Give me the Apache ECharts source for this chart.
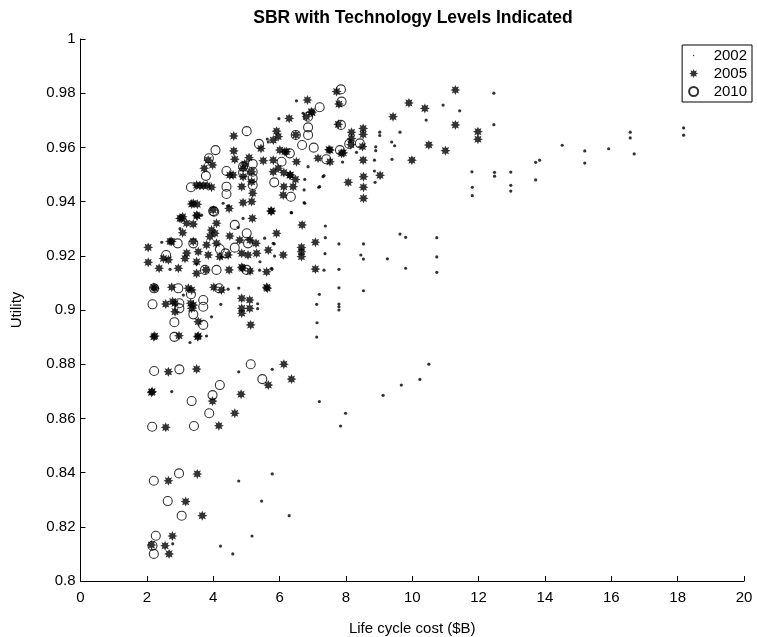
<!DOCTYPE html>
<html>
<head>
<meta charset="utf-8">
<script src="https://cdn.jsdelivr.net/npm/echarts@6/dist/echarts.min.js"></script>
<style>
  html, body { margin: 0; padding: 0; background: #fff; }
  #chart { width: 757px; height: 637px; }
</style>
</head>
<body>
<div id="chart"></div>
<script>
// [life cycle cost ($B), utility] per technology level
const pts2002 = [
  [12.46, 0.980], [12.46, 0.9684], [12.48, 0.9508], [12.48, 0.9494], [12.97, 0.9509], [12.97, 0.946], [12.97, 0.9439],
  [13.72, 0.9545], [13.84, 0.9553], [13.72, 0.948], [14.52, 0.9608], [15.2, 0.9587], [15.2, 0.9542], [15.92, 0.9595],
  [16.57, 0.9656], [16.57, 0.9635], [16.69, 0.9576], [18.18, 0.9672], [18.18, 0.9645],
  [10.93, 0.9756], [11.43, 0.9735], [10.42, 0.9701], [9.63, 0.9656], [9.02, 0.9656], [9.02, 0.9644], [9.38, 0.962],
  [9.47, 0.9606], [8.9, 0.9602], [8.9, 0.9588], [8.86, 0.9553], [9.39, 0.9556], [7.9, 0.9546], [8.86, 0.9513],
  [8.88, 0.9471], [11.8, 0.951], [11.81, 0.9453], [11.81, 0.9422],
  [7.79, 0.9244], [8.53, 0.9244], [9.63, 0.928], [9.8, 0.9268], [10.74, 0.9267], [8.45, 0.9203], [8.53, 0.9188],
  [9.25, 0.9189], [10.74, 0.9196], [9.8, 0.9154], [10.74, 0.9139], [7.79, 0.915], [7.79, 0.9082], [8.53, 0.9071],
  [7.79, 0.9022], [7.79, 0.9012], [7.79, 0.9],
  [6.35, 0.9359], [7.38, 0.931], [7.38, 0.9267], [7.37, 0.9208], [5.84, 0.9244], [5.85, 0.9199], [4.9, 0.9338],
  [5.41, 0.9178], [5.4, 0.9147], [5.77, 0.915], [7.34, 0.9147], [4.77, 0.9081], [7.2, 0.9058], [7.12, 0.9021],
  [7.13, 0.8953], [7.12, 0.89], [5.34, 0.9023], [5.34, 0.9005],
  [10.5, 0.88], [10.23, 0.8744], [9.67, 0.8723], [9.12, 0.8685],
  [2.75, 0.8699], [7.2, 0.8662], [7.99, 0.8619], [7.84, 0.8572], [5.78, 0.8395], [4.77, 0.8369], [5.46, 0.8295],
  [6.29, 0.8241], [5.17, 0.8166], [4.22, 0.8129], [4.59, 0.81], [2.78, 0.8137],
  [4.77, 0.8772], [5.78, 0.8781], [3.8, 0.8904], [4.23, 0.9021], [3.95, 0.8975], [4.45, 0.9077], [6.76, 0.9394],
  [5.76, 0.9154], [5.81, 0.9246], [4.45, 0.9384], [3.65, 0.935],
  [6.51, 0.9772], [5.98, 0.9706], [5.63, 0.9631], [6.86, 0.9529], [6.76, 0.9482], [7.21, 0.9455], [6.74, 0.9443],
  [6.74, 0.9396], [7.34, 0.9496], [8.32, 0.9582], [6.36, 0.9359], [4.3, 0.9394], [8.12, 0.9621], [6.71, 0.9726],
  [7.31, 0.9492], [7.18, 0.9453], [5.66, 0.962],
  [3.0, 0.93], [3.5, 0.917], [4.25, 0.9195], [2.7, 0.915], [3.1, 0.9055], [4.75, 0.9305], [5.55, 0.9265],
  [3.3, 0.888], [2.45, 0.925]
];

const pts2005 = [
  [11.3, 0.9812], [9.9, 0.9764], [10.38, 0.9744], [9.42, 0.9713], [11.3, 0.9683], [10.5, 0.9609], [11.0, 0.9588],
  [9.99, 0.9553], [11.98, 0.9658], [11.98, 0.963], [9.03, 0.9497],
  [8.52, 0.967], [8.52, 0.9648], [8.5, 0.9603], [8.52, 0.9553], [8.53, 0.9492], [8.53, 0.9453], [8.53, 0.9412],
  [8.07, 0.9471], [8.17, 0.9656], [8.17, 0.9633], [8.15, 0.961],
  [7.72, 0.9806], [7.79, 0.976], [7.77, 0.9685], [7.92, 0.958], [7.52, 0.959], [7.52, 0.9547], [7.87, 0.9578],
  [7.16, 0.956], [7.49, 0.9592],
  [6.84, 0.9775], [6.29, 0.9707], [6.81, 0.9713], [6.98, 0.9728], [6.49, 0.9646], [5.91, 0.966], [5.96, 0.964],
  [5.81, 0.9627], [6.51, 0.9547], [5.81, 0.9553], [6.01, 0.959], [6.21, 0.9584], [5.96, 0.9523], [6.13, 0.9507],
  [6.33, 0.9498], [6.48, 0.9482], [6.41, 0.9455], [6.13, 0.9455], [6.11, 0.9424], [5.81, 0.951], [5.74, 0.9365],
  [5.51, 0.9551], [5.44, 0.9596], [5.08, 0.9562], [4.95, 0.9539], [4.9, 0.9523], [4.9, 0.9492], [4.86, 0.9455],
  [4.9, 0.9396], [5.16, 0.94], [5.19, 0.9431], [5.16, 0.9473], [5.16, 0.951], [4.62, 0.9642], [4.62, 0.9587],
  [4.65, 0.9556], [4.5, 0.9498], [4.6, 0.9498], [4.48, 0.9375], [3.98, 0.9535], [3.73, 0.9523], [3.85, 0.9553],
  [3.5, 0.9461], [3.7, 0.9459], [3.95, 0.9453], [3.4, 0.9394], [3.52, 0.939], [4.0, 0.9369], [3.08, 0.9344],
  [3.52, 0.9347], [6.96, 0.9732], [6.16, 0.9584], [6.31, 0.9498], [3.6, 0.9459], [3.82, 0.9459],
  [2.04, 0.9231], [2.04, 0.9176], [2.37, 0.9154], [2.21, 0.9084], [2.21, 0.8901], [2.57, 0.9022], [2.65, 0.8772],
  [2.14, 0.8696], [3.05, 0.9338], [3.08, 0.9285], [3.4, 0.9317], [3.5, 0.935], [3.35, 0.9391], [3.4, 0.9253],
  [3.2, 0.921], [2.65, 0.9185], [2.7, 0.9253], [2.95, 0.9154], [3.5, 0.9178], [3.5, 0.9135], [3.55, 0.9215],
  [3.8, 0.924], [3.9, 0.9271], [3.95, 0.9295], [4.05, 0.9283], [4.1, 0.932], [4.1, 0.9246], [3.85, 0.9203],
  [4.2, 0.9197], [4.45, 0.9203], [4.5, 0.9273], [4.8, 0.9258], [4.86, 0.9209], [5.05, 0.9203], [5.31, 0.9209],
  [4.89, 0.9154], [4.48, 0.9148], [3.78, 0.9148], [5.66, 0.9221], [5.61, 0.9141], [5.61, 0.9084], [5.91, 0.9283],
  [6.11, 0.9203], [5.76, 0.9365], [6.68, 0.9314], [6.66, 0.9231], [6.66, 0.9215], [6.66, 0.9197], [7.08, 0.925],
  [7.08, 0.9151], [4.25, 0.9074], [4.02, 0.9084], [3.35, 0.9074], [2.78, 0.9031], [2.85, 0.8994], [3.32, 0.9025],
  [3.35, 0.9006], [3.55, 0.8957], [2.97, 0.8905], [3.53, 0.8901], [4.86, 0.9043], [4.86, 0.9006], [4.86, 0.8988],
  [5.1, 0.9037], [5.1, 0.9006], [5.13, 0.8945], [4.84, 0.8689], [5.66, 0.8723], [6.13, 0.88], [6.36, 0.8745],
  [3.5, 0.8782],
  [2.16, 0.8699], [3.98, 0.8664], [4.65, 0.8619], [2.57, 0.8567], [4.17, 0.8573], [2.65, 0.837], [3.52, 0.8395],
  [3.17, 0.8293], [3.67, 0.8241], [2.77, 0.8166], [2.14, 0.8133], [2.55, 0.813], [2.67, 0.81],
  [5.18, 0.9338], [5.29, 0.9246], [5.11, 0.9258], [4.86, 0.9158], [5.11, 0.9144], [5.63, 0.908],
  [3.0, 0.9338], [3.2, 0.932], [2.75, 0.9253], [2.5, 0.919], [3.15, 0.919], [2.24, 0.908], [2.75, 0.9084],
  [3.25, 0.908], [2.85, 0.9025], [3.4, 0.9018], [2.24, 0.8904], [3.55, 0.8904]
];

const pts2010 = [
  [7.85, 0.9814], [7.87, 0.9769], [7.85, 0.9683], [7.21, 0.9748], [6.86, 0.9713], [6.86, 0.9674], [6.86, 0.9646],
  [7.03, 0.9599], [6.68, 0.9609], [6.49, 0.9646], [7.82, 0.959], [7.41, 0.9556], [8.1, 0.9613], [8.42, 0.9615],
  [6.31, 0.9578], [6.06, 0.9547], [5.84, 0.9471], [6.34, 0.9418], [5.38, 0.9613], [5.01, 0.966], [5.19, 0.9539],
  [5.19, 0.951], [5.19, 0.9486], [5.19, 0.9461], [4.9, 0.9529], [4.9, 0.9507], [4.4, 0.9513], [4.4, 0.9455],
  [4.4, 0.9428], [4.07, 0.959], [3.87, 0.956], [3.78, 0.9495], [3.33, 0.9453], [4.0, 0.9365],
  [2.58, 0.9203], [2.22, 0.908], [2.17, 0.9021], [2.93, 0.9246], [2.95, 0.908], [3.4, 0.9246], [3.33, 0.9058],
  [2.98, 0.9025], [2.98, 0.9006], [2.83, 0.8955], [2.83, 0.8901], [3.4, 0.8984], [3.7, 0.9037], [3.7, 0.9012],
  [3.7, 0.8945], [4.03, 0.9363], [4.18, 0.908], [4.2, 0.9225], [4.65, 0.9314], [4.65, 0.923], [5.01, 0.9283],
  [5.05, 0.9246], [4.1, 0.9148], [3.75, 0.9148], [4.37, 0.9209], [5.01, 0.9148], [2.22, 0.8775], [2.98, 0.8781],
  [5.13, 0.88], [5.48, 0.8745], [4.2, 0.8723], [3.98, 0.8686],
  [3.35, 0.8664], [3.88, 0.8619], [2.16, 0.8569], [3.42, 0.8572], [2.21, 0.837], [2.97, 0.8397], [2.63, 0.8295],
  [3.05, 0.8241], [2.27, 0.8167], [2.17, 0.813], [2.21, 0.81]
];

const xTicks = { min: 0, max: 20, step: 2 };
const yTicks = { min: 0.8, max: 1, step: 0.02 };

// 8-point asterisk-like marker
function starPath(n, r1, r2) {
  let s = '';
  for (let i = 0; i < n * 2; i++) {
    const a = i * Math.PI / n - Math.PI / 2;
    const r = i % 2 ? r2 : r1;
    s += (i ? 'L' : 'M') + (r * Math.cos(a)).toFixed(3) + ',' + (r * Math.sin(a)).toFixed(3) + ' ';
  }
  return 'path://' + s + 'Z';
}
const asterisk = starPath(8, 10, 5.6);
// small dot with padding so the legend icon stays small
const smallDot = 'path://M0,0 M20,20 M8.5,10 A1.5,1.5 0 1 1 11.5,10 A1.5,1.5 0 1 1 8.5,10 Z';

const font = 'Liberation Sans, Arial, Helvetica, sans-serif';
const chart = echarts.init(document.getElementById('chart'));

chart.setOption({
  animation: false,
  backgroundColor: '#fff',
  title: {
    text: 'SBR with Technology Levels Indicated',
    left: 408,
    top: 4,
    textAlign: 'center',
    textStyle: { fontFamily: font, fontSize: 17.5, fontWeight: 'bold', color: '#000' }
  },
  grid: { left: 80.5, right: 13, top: 39, bottom: 56, outerBoundsMode: 'none' },
  legend: {
    right: 5,
    top: 45,
    orient: 'vertical',
    padding: [3, 5, 3, 6],
    itemGap: 3,
    itemWidth: 30,
    itemHeight: 9,
    borderColor: '#000',
    borderWidth: 1,
    backgroundColor: '#fff',
    textStyle: { fontFamily: font, fontSize: 15, color: '#000' },
    data: [
      { name: '2002', icon: smallDot, itemStyle: { color: '#000' } },
      { name: '2005' },
      { name: '2010' }
    ]
  },
  xAxis: {
    type: 'value',
    min: xTicks.min,
    max: xTicks.max,
    interval: xTicks.step,
    name: 'Life cycle cost ($B)',
    nameLocation: 'middle',
    nameGap: 40,
    nameTextStyle: { fontFamily: font, fontSize: 15, color: '#000' },
    axisLine: { lineStyle: { color: '#000', width: 1 } },
    axisTick: { inside: true, length: 5, lineStyle: { color: '#000' } },
    axisLabel: { fontFamily: font, fontSize: 15, color: '#000', margin: 9 },
    splitLine: { show: false }
  },
  yAxis: {
    type: 'value',
    min: yTicks.min,
    max: yTicks.max,
    interval: yTicks.step,
    name: 'Utility',
    nameLocation: 'middle',
    nameGap: 56,
    nameTextStyle: { fontFamily: font, fontSize: 15, color: '#000' },
    axisLine: { show: true, lineStyle: { color: '#000', width: 1 } },
    axisTick: { show: true, inside: true, length: 5, lineStyle: { color: '#000' } },
    axisLabel: {
      fontFamily: font, fontSize: 15, color: '#000', margin: 5,
      formatter: function (v) { return String(+v.toFixed(2)); }
    },
    splitLine: { show: false }
  },
  series: [{
    name: '2002',
    type: 'scatter',
    symbol: 'circle',
    symbolSize: 3.2,
    itemStyle: { color: '#000' },
    data: pts2002
  }, {
    name: '2005',
    type: 'scatter',
    symbol: asterisk,
    symbolSize: 10,
    itemStyle: { color: '#000' },
    data: pts2005
  }, {
    name: '2010',
    type: 'scatter',
    symbol: 'circle',
    symbolSize: 9,
    itemStyle: { color: 'rgba(0,0,0,0)', borderColor: '#000', borderWidth: 1.1 },
    data: pts2010
  }]
});
</script>
</body>
</html>
